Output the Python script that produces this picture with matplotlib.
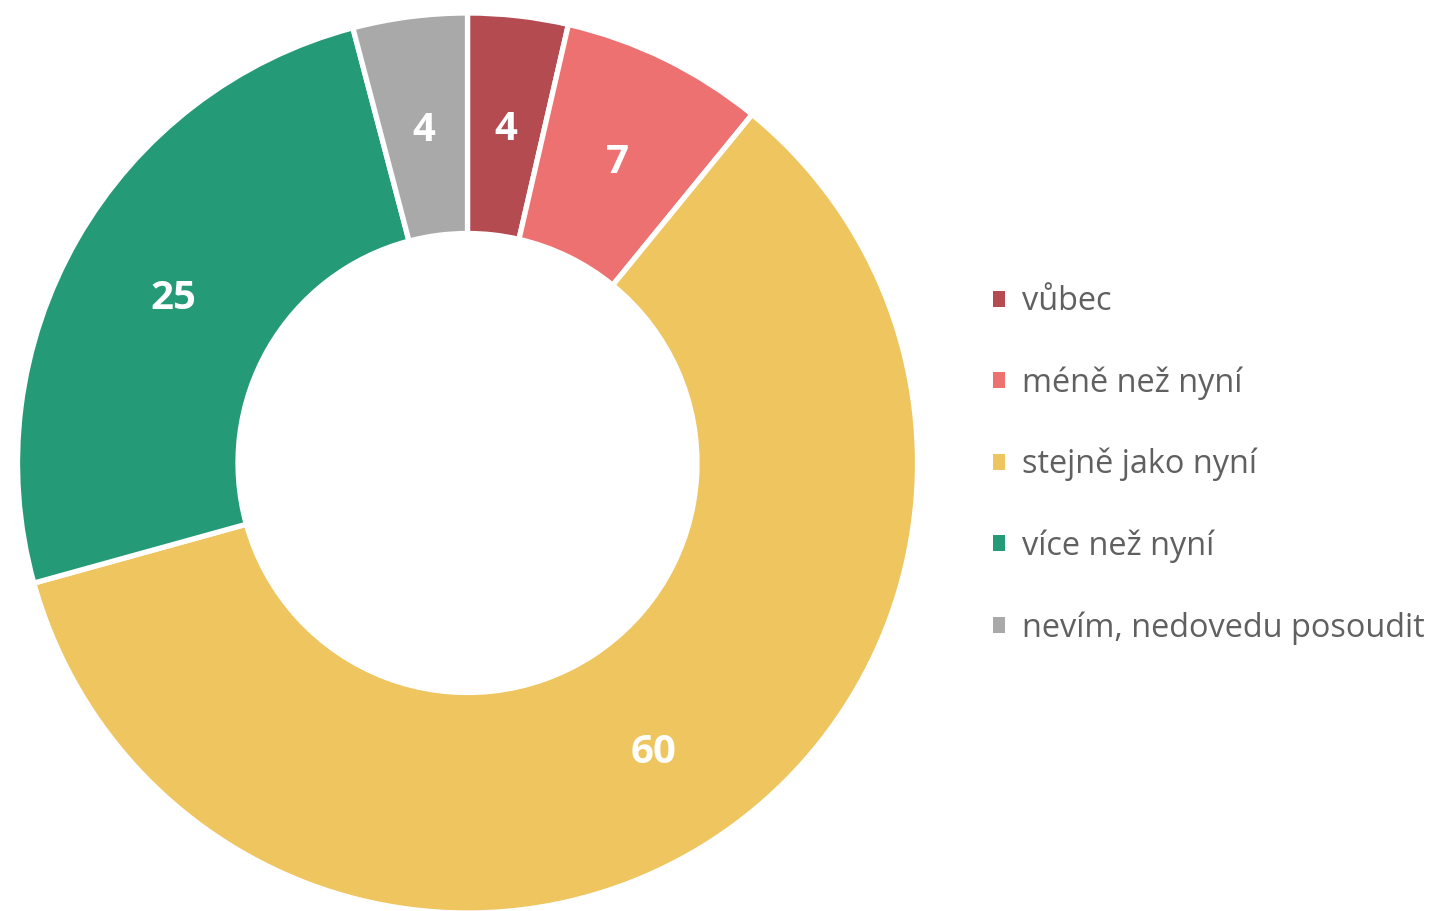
import matplotlib
matplotlib.use("Agg")
import matplotlib.pyplot as plt
from matplotlib.patches import Patch
import numpy as np

categories = ["vůbec", "méně než nyní", "stejně jako nyní", "více než nyní", "nevím, nedovedu posoudit"]
values = [3.6, 7.3, 59.8, 25.2, 4.1]
value_labels = ["4", "7", "60", "25", "4"]
colors = ["#B34B50", "#EC7170", "#EEC55E", "#259A76", "#A9A9A9"]

plt.rcParams["font.family"] = ["Open Sans", "DejaVu Sans"]

W, H = 1430, 911
fig = plt.figure(figsize=(W / 100, H / 100), dpi=100)
# place the donut in pixel coordinates: outer radius 450 px, centre (467, 463)
cx, cy, r = 467.5, 463, 450
ax = fig.add_axes([(cx - r) / W, (H - cy - r) / H, 2 * r / W, 2 * r / H])

ring = 0.49
wedges, _ = ax.pie(values, colors=colors, startangle=90, counterclock=False,
                   radius=1.0, wedgeprops=dict(width=ring, edgecolor="white", linewidth=3.8))

# value labels in the middle of the ring
for w, lab in zip(wedges, value_labels):
    ang = np.deg2rad((w.theta1 + w.theta2) / 2)
    rr = 1 - ring / 2
    ax.text(rr * np.cos(ang), rr * np.sin(ang), lab, ha="center", va="center_baseline",
            color="white", fontsize=29, fontweight="bold")

ax.set_xlim(-1, 1)
ax.set_ylim(-1, 1)
ax.set_aspect("equal")
ax.axis("off")

handles = [Patch(facecolor=c, edgecolor="none") for c in colors]
fig.legend(handles, categories, loc="center left", bbox_to_anchor=(993 / W, 1 - 465 / H),
           frameon=False, fontsize=23.4, labelcolor="#606060", handlelength=0.38, handleheight=0.38,
           handletextpad=0.5, labelspacing=1.48, borderpad=0, borderaxespad=0)

fig.savefig("out.png", dpi=100)
